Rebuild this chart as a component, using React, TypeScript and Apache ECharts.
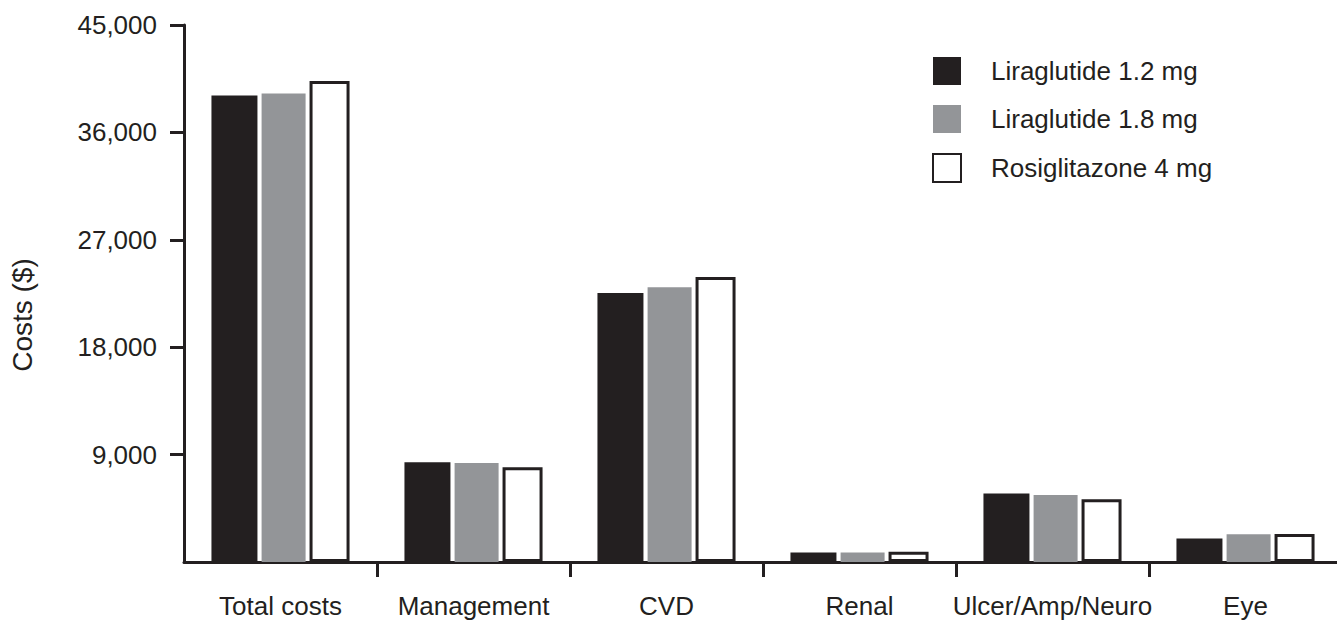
import React, { useEffect, useRef } from "react";
import * as echarts from "echarts";

const categories = ["Total costs", "Management", "CVD", "Renal", "Ulcer/Amp/Neuro", "Eye"];
const seriesNames = ["Liraglutide 1.2 mg", "Liraglutide 1.8 mg", "Rosiglitazone 4 mg"];
const lira12 = [39100, 8350, 22550, 790, 5740, 1960];
const lira18 = [39250, 8290, 23030, 790, 5610, 2320];
const rosi4 = [40300, 7950, 23880, 850, 5260, 2340];
const yTicks = { min: 0, max: 45000, interval: 9000 };
const boundaryTicks = [1, 2, 3, 4, 5];

const INK = "#231f20";
const GREY = "#939598";
const FONT = "'Liberation Sans', Arial, Helvetica, sans-serif";

export default function App() {
  const ref = useRef<HTMLDivElement>(null);
  useEffect(() => {
    if (!ref.current) return;
    const chart = echarts.init(ref.current, null, { renderer: "svg" });
    chart.setOption({
      animation: false,
      backgroundColor: "#ffffff",
      textStyle: { fontFamily: FONT, color: INK },
      grid: { left: 184, top: 25, width: 1158, height: 537, outerBoundsMode: "none", containLabel: false },
      legend: {
        orient: "vertical",
        left: 932,
        top: 57,
        padding: 0,
        icon: "rect",
        itemWidth: 28,
        itemHeight: 28,
        itemGap: 20,
        data: seriesNames,
        textStyle: { fontFamily: FONT, fontSize: 26, color: INK, padding: [0, 0, 0, 25] },
        selectedMode: false,
      },
      graphic: [
        {
          type: "text",
          x: 22,
          y: 315,
          rotation: Math.PI / 2,
          style: {
            text: "Costs ($)",
            fontFamily: FONT,
            fontSize: 28,
            fill: INK,
            align: "center",
            verticalAlign: "middle",
          },
        },
      ],
      xAxis: [
        {
          type: "category",
          data: categories,
          boundaryGap: true,
          axisLine: { lineStyle: { color: INK, width: 3 } },
          axisTick: { show: false },
          axisLabel: { fontFamily: FONT, fontSize: 26, color: INK, margin: 31, interval: 0 },
        },
        {
          type: "value",
          position: "bottom",
          min: 0,
          max: categories.length,
          axisLine: { show: false },
          axisTick: {
            show: true,
            length: 15,
            customValues: boundaryTicks,
            lineStyle: { color: INK, width: 3 },
          },
          axisLabel: { show: false },
          splitLine: { show: false },
        },
      ],
      yAxis: {
        type: "value",
        min: yTicks.min,
        max: yTicks.max,
        interval: yTicks.interval,
        axisLine: { show: true, lineStyle: { color: INK, width: 3 } },
        axisTick: { show: true, length: 14, lineStyle: { color: INK, width: 3 } },
        axisLabel: { fontFamily: FONT, fontSize: 26, color: INK, margin: 27, showMinLabel: false },
        splitLine: { show: false },
      },
      series: [
        {
          name: seriesNames[0],
          type: "bar",
          data: lira12,
          barWidth: 46,
          barGap: "9%",
          itemStyle: { color: INK },
        },
        {
          name: seriesNames[1],
          type: "bar",
          data: lira18,
          barWidth: 44,
          barGap: "9%",
          itemStyle: { color: GREY },
        },
        {
          name: seriesNames[2],
          type: "bar",
          data: rosi4,
          barWidth: 40,
          barGap: "9%",
          itemStyle: { color: "#ffffff", borderColor: INK, borderWidth: 3 },
        },
      ],
    });
    return () => chart.dispose();
  }, []);
  return <div ref={ref} style={{ width: 1337, height: 621, position: "absolute", left: 0, top: 0 }} />;
}
